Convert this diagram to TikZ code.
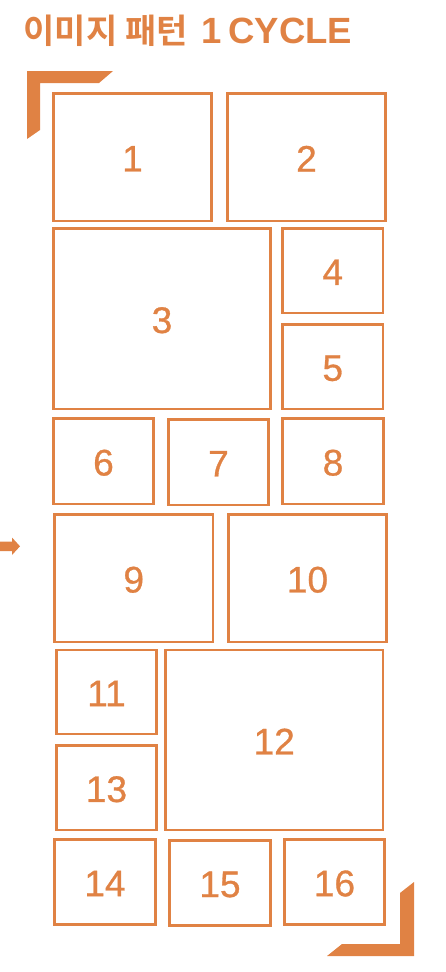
\documentclass[tikz,border=0pt]{standalone}
\usepackage{fontspec}
\setmainfont{Liberation Sans}
\newfontfamily\krfont{Noto Sans CJK KR}[BoldFont={* Bold}]
\newfontfamily\numfont{Liberation Sans}[FakeBold=0.8]
\definecolor{org}{HTML}{E08244}
\newcommand\imgbox[6]{%
  \node[imgbx, minimum width={(#4-#2)*1pt}, minimum height={(#5-#3)*1pt}]
    (b#1) at ({(#2+#4)/2},{(#3+#5)/2}) {};
  \node[imglbl, yshift=-1.5pt] (l#1) at (b#1.center) {#6};}
\begin{document}
\begin{tikzpicture}[x=1pt,y=-1pt,
  imgbx/.style={draw=org, line width=2.2pt, inner sep=0pt, outer sep=0pt},
  imglbl/.style={text=org, inner sep=0pt, font=\numfont\fontsize{37}{37}\selectfont},
  titlestyle/.style={text=org, inner sep=0pt, anchor=base west}]
\useasboundingbox (0,0) rectangle (446,972);
\node[titlestyle, font=\krfont\bfseries\fontsize{34}{34}\selectfont] (titlekr) at (23.5,43) {이미지 패턴};
\node[titlestyle, font=\bfseries\fontsize{36.5}{36.5}\selectfont] (titleen) at (201.5,43) {1\hspace{-3.5pt} CYCLE};
% corner brackets
\fill[org] (27,71) -- (113,71) -- (99,83) -- (40,83) -- (40,130) -- (27,139) -- cycle;
\fill[org] (414,882) -- (414,956) -- (327,956) -- (342,944) -- (400,944) -- (400,893) -- cycle;
% arrow
\fill[org] (0,541.5) -- (12,541.5) -- (12,537.5) -- (20,546.3) -- (12,555) -- (12,551) -- (0,551) -- cycle;
\imgbox{1}{53.5}{93.5}{211.5}{221}{1}
\imgbox{2}{227.5}{93.5}{385.5}{221}{2}
\imgbox{3}{53.5}{228.5}{270.5}{409}{3}
\imgbox{4}{282.5}{228.5}{383}{313}{4}
\imgbox{5}{282.5}{324.5}{383}{409}{5}
\imgbox{6}{53.5}{418.5}{153.5}{504}{6}
\imgbox{7}{168.5}{419.5}{268.5}{505}{7}
\imgbox{8}{282.5}{418.5}{383.5}{504}{8}
\imgbox{9}{54.5}{514.5}{213}{642}{9}
\imgbox{10}{228.5}{514.5}{386.5}{642}{10}
\imgbox{11}{56.5}{650}{156.5}{734}{11}
\imgbox{13}{56.5}{745.5}{156.5}{830}{13}
\imgbox{12}{165.5}{650}{383}{830}{12}
\imgbox{14}{54.5}{839.5}{155.5}{924.5}{14}
\imgbox{15}{169.5}{840.5}{270.5}{925.5}{15}
\imgbox{16}{284.5}{839.5}{384.5}{924.5}{16}
\end{tikzpicture}
\end{document}
